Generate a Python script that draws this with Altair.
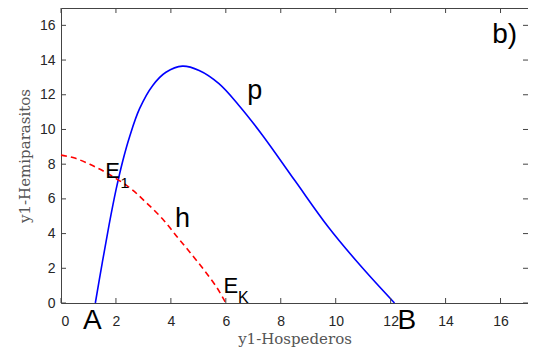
import altair as alt
import pandas as pd

# Curve p (blue, solid)
p_x = [1.25, 1.50, 1.75, 2.00, 2.25, 2.50, 2.86, 3.34, 3.82, 4.42, 5.03, 5.75, 6.47, 7.32, 8.52, 9.73, 10.93, 12.14]
p_y = [0.00, 2.30, 4.50, 6.50, 8.20, 9.60, 11.20, 12.54, 13.30, 13.65, 13.40, 12.64, 11.40, 9.70, 7.04, 4.38, 2.10, 0.00]

# Curve h (red, dashed)
h_x = [0.00, 0.50, 1.05, 1.65, 2.50, 3.10, 3.70, 4.24, 4.73, 5.21, 5.69, 6.00]
h_y = [8.52, 8.35, 7.99, 7.51, 6.64, 5.79, 4.84, 3.79, 2.85, 1.90, 0.85, 0.00]

# Tick values
x_ticks = [0, 2, 4, 6, 8, 10, 12, 14, 16]
y_ticks = [0, 2, 4, 6, 8, 10, 12, 14, 16]

# Annotations (data coordinates of the text baseline centre)
ann_text = ["p", "h", "E", "1", "E", "K", "A", "B", "b)"]
ann_x = [7.05, 4.42, 1.88, 2.32, 6.18, 6.64, 1.14, 12.59, 16.15]
ann_y = [11.77, 4.36, 7.20, 6.63, 0.59, 0.02, -1.52, -1.48, 15.00]
ann_size = [27, 27, 22, 15, 22, 16, 28, 28, 28]

W, H = 467, 295
SANS = "Liberation Sans"
SERIF = "DejaVu Serif"
BOX = "#444444"

p_df = pd.DataFrame({"x": p_x, "y": p_y})
h_df = pd.DataFrame({"x": h_x, "y": h_y})
xt_df = pd.DataFrame({"v": x_ticks})
yt_df = pd.DataFrame({"v": y_ticks})
ann_df = pd.DataFrame({"t": ann_text, "x": ann_x, "y": ann_y, "s": ann_size})

xscale = alt.Scale(domain=[0, 17], nice=False, zero=False)
yscale = alt.Scale(domain=[0, 17], nice=False, zero=False)

xaxis = alt.Axis(values=x_ticks, grid=False, ticks=False, domain=False, labelOverlap=False,
                 labelFont=SANS, labelFontSize=14, labelColor="#262626", labelPadding=11,
                 title="y1-Hospederos", titleFont=SERIF, titleFontSize=15,
                 titleFontWeight="normal", titleColor="#555555", titlePadding=3)
yaxis = alt.Axis(values=y_ticks, grid=False, ticks=False, domain=False, labelOverlap=False,
                 labelFont=SANS, labelFontSize=14, labelColor="#262626", labelPadding=6,
                 title="y1-Hemiparasitos", titleFont=SERIF, titleFontSize=15,
                 titleFontWeight="normal", titleColor="#555555", titlePadding=7)


def X(field):
    return alt.X(field, scale=xscale, axis=xaxis)


def Y(field):
    return alt.Y(field, scale=yscale, axis=yaxis)


p_line = alt.Chart(p_df).mark_line(color="#0000ff", strokeWidth=1.6, interpolate="catmull-rom").encode(
    x=X("x:Q"), y=Y("y:Q"))

h_line = alt.Chart(h_df).mark_line(color="#ff0000", strokeWidth=1.6, strokeDash=[6, 4],
                                   interpolate="catmull-rom").encode(
    x=X("x:Q"), y=Y("y:Q"))

tick_bottom = alt.Chart(xt_df).mark_rule(color=BOX, strokeWidth=1).encode(
    x=X("v:Q"), y=alt.value(H), y2=alt.value(H - 5))
tick_top = alt.Chart(xt_df).mark_rule(color=BOX, strokeWidth=1).encode(
    x=X("v:Q"), y=alt.value(0), y2=alt.value(5))
tick_left = alt.Chart(yt_df).mark_rule(color=BOX, strokeWidth=1).encode(
    y=Y("v:Q"), x=alt.value(0), x2=alt.value(5))
tick_right = alt.Chart(yt_df).mark_rule(color=BOX, strokeWidth=1).encode(
    y=Y("v:Q"), x=alt.value(W), x2=alt.value(W - 5))

labels = alt.Chart(ann_df).mark_text(font=SANS, color="#000000", align="center",
                                     baseline="alphabetic").encode(
    x=X("x:Q"), y=Y("y:Q"),
    text="t:N",
    size=alt.Size("s:Q", scale=None, legend=None),
)

chart = alt.layer(p_line, h_line, tick_bottom, tick_top, tick_left, tick_right, labels).properties(
    width=W, height=H,
    autosize=alt.AutoSizeParams(type="none"),
    padding={"left": 53, "top": 0, "right": 0, "bottom": 45},
    background="#ffffff",
).configure_view(stroke=BOX, strokeWidth=1).configure_axis(labelOverlap=False)

chart.save("out.html", embed_options={"renderer": "svg", "actions": False})
